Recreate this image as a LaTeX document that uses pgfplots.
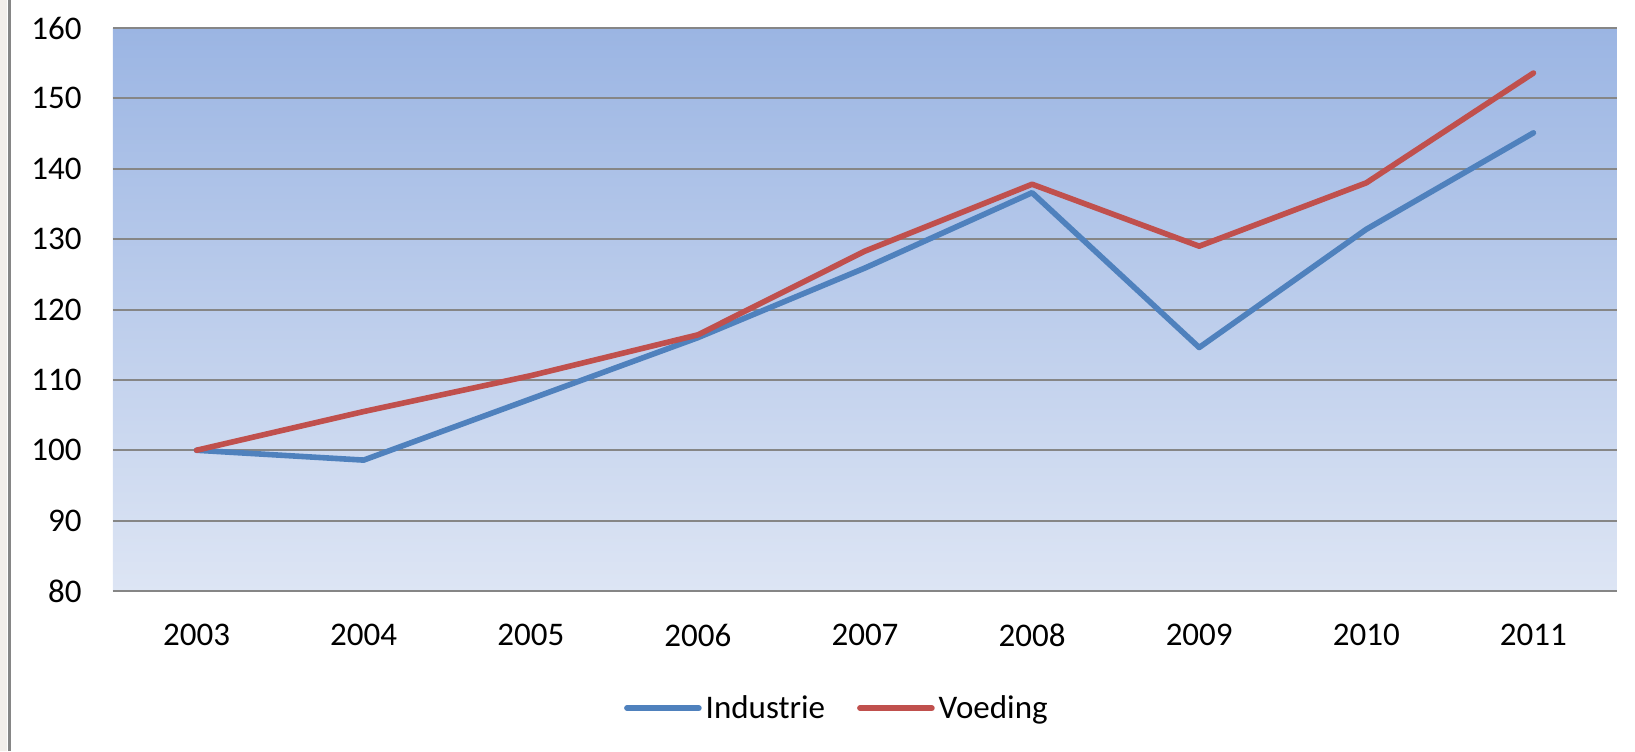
\documentclass[border=0pt]{standalone}
\usepackage{pgfplots}
\pgfplotsset{compat=1.18}
\usepackage{fontspec}
\setmainfont{Carlito}
\definecolor{serblue}{RGB}{79,129,189}
\definecolor{serred}{RGB}{192,80,77}
\definecolor{gridgray}{RGB}{134,134,134}
\definecolor{bgtop}{RGB}{155,181,227}
\definecolor{bgbot}{RGB}{221,229,244}
\definecolor{leftbg}{RGB}{242,238,234}
\begin{document}
\begin{tikzpicture}
\path[use as bounding box] (0,0) rectangle (817.5pt,375.5pt);
\fill[leftbg] (0,0) rectangle (3.5pt,375.5pt);
\draw[gridgray, line width=1.5pt] (4.5pt,0) -- (4.5pt,375.5pt);
\begin{axis}[
    at={(56.5pt,80pt)}, anchor=south west,
    scale only axis, width=752pt, height=281.5pt,
    xmin=2002.5, xmax=2011.5,
    ymin=80, ymax=160,
    ytick distance=10,
    xtick=data,
    xticklabel style={/pgf/number format/1000 sep={}},
    /pgf/number format/assume math mode=true,
    font=\fontsize{16.5}{20}\selectfont,
    ticklabel style={inner sep=0pt},
    yticklabel style={anchor=east, xshift=-15.5pt},
    xticklabel style={anchor=north, yshift=-16.5pt},
    tick style={draw=none},
    axis line style={draw=none},
    ymajorgrids,
    major grid style={draw=gridgray, line width=1pt},
    axis background/.style={shade, top color=bgtop, bottom color=bgbot},
    legend columns=2,
    legend style={at={(0.482,-0.208)}, anchor=center, draw=none, fill=none,
        /tikz/every even column/.append style={column sep=14pt}},
    legend image code/.code={\draw[#1, line cap=round] (0pt,0pt) -- (36pt,0pt);},
    every axis plot/.append style={line width=2.8pt, line join=round, line cap=round},
]
\addplot[serblue, mark=none] coordinates {
  (2003,100) (2004,98.6) (2005,107.3) (2006,116.0) (2007,125.9)
  (2008,136.6) (2009,114.6) (2010,131.4) (2011,145.1)
};
\addlegendentry{Industrie}
\addplot[serred, mark=none] coordinates {
  (2003,100) (2004,105.5) (2005,110.6) (2006,116.4) (2007,128.3)
  (2008,137.8) (2009,129.0) (2010,138.0) (2011,153.6)
};
\addlegendentry{Voeding}
\end{axis}
\end{tikzpicture}
\end{document}
